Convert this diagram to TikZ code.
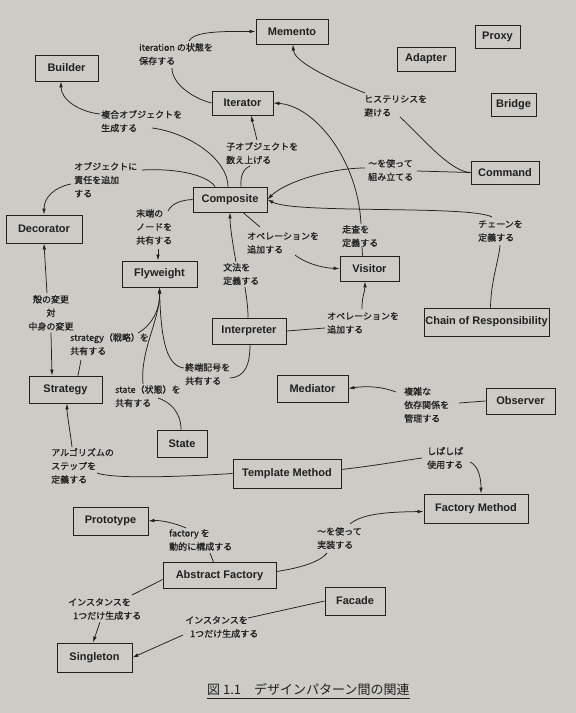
\documentclass[tikz,border=0pt]{standalone}
\usepackage{fontspec}
\setmainfont{Liberation Sans}
\newfontfamily\jp[FakeBold=0.8]{Noto Sans CJK JP}
\newfontfamily\jpcap{Noto Sans CJK JP}
\usetikzlibrary{arrows.meta}
\definecolor{paper}{RGB}{204,203,198}
\definecolor{ink}{RGB}{32,32,32}
\begin{document}
\begin{tikzpicture}[x=1pt,y=-1pt,
 box/.style={draw=ink, fill=paper, line width=0.9pt, text=ink, font=\bfseries\fontsize{11}{12}\selectfont, inner sep=0pt},
 lab/.style={anchor=north west, align=left, inner sep=0pt, text=ink, font=\jp\fontsize{9}{13.5}\selectfont},
 conn/.style={draw=ink, line width=0.75pt},
 arr/.style={conn, -{Latex[length=6pt,width=3.6pt]}},
]
\fill[paper] (0,0) rectangle (576,713);
\useasboundingbox (0,0) rectangle (576,713);

% boxes
\node[box, minimum width=72pt, minimum height=25pt] (memento) at (292,31.5) {Memento};
\node[box, minimum width=63pt, minimum height=26pt] (builder) at (66.5,68) {Builder};
\node[box, minimum width=61pt, minimum height=24pt] (iterator) at (242.5,103) {Iterator};
\node[box, minimum width=45pt, minimum height=23pt] (proxy) at (497.5,36.5) {Proxy};
\node[box, minimum width=58pt, minimum height=24pt] (adapter) at (426,59) {Adapter};
\node[box, minimum width=45pt, minimum height=23pt] (bridge) at (513.5,104.5) {Bridge};
\node[box, minimum width=68pt, minimum height=23pt] (command) at (505,172.5) {Command};
\node[box, minimum width=74pt, minimum height=25pt] (composite) at (230,199.5) {Composite};
\node[box, minimum width=76pt, minimum height=28pt] (decorator) at (44,229) {Decorator};
\node[box, minimum width=75pt, minimum height=26pt] (flyweight) at (159.5,274) {Flyweight};
\node[box, minimum width=59pt, minimum height=25pt] (visitor) at (369.5,268.5) {Visitor};
\node[box, minimum width=74pt, minimum height=26pt] (interpreter) at (249,331) {Interpreter};
\node[box, minimum width=125pt, minimum height=28pt] (chain) at (486.5,322) {Chain of Responsibility};
\node[box, minimum width=71pt, minimum height=27pt] (mediator) at (312.5,388.5) {Mediator};
\node[box, minimum width=69pt, minimum height=26pt] (observer) at (520.5,401) {Observer};
\node[box, minimum width=73pt, minimum height=27pt] (strategy) at (65.5,389.5) {Strategy};
\node[box, minimum width=50pt, minimum height=27pt] (state) at (182,443.5) {State};
\node[box, minimum width=108pt, minimum height=29pt] (template) at (287,473.5) {Template Method};
\node[box, minimum width=104pt, minimum height=29pt] (factory) at (476,508.5) {Factory Method};
\node[box, minimum width=75pt, minimum height=28pt] (prototype) at (110.5,521) {Prototype};
\node[box, minimum width=113pt, minimum height=26pt] (abstract) at (219.5,575.5) {Abstract Factory};
\node[box, minimum width=60pt, minimum height=28pt] (facade) at (355,601) {Facade};
\node[box, minimum width=75pt, minimum height=29pt] (singleton) at (94.5,657.5) {Singleton};

% labels
\node[lab] (lIter) at (139,43) {iteration の状態を\\保存する};
\node[lab] (lBuild) at (101,110) {複合オブジェクトを\\生成する};
\node[lab] (lChild) at (226,142) {子オブジェクトを\\数え上げる};
\node[lab] (lDeco) at (74,162) {オブジェクトに\\責任を追加\\する};
\node[lab] (lHyst) at (364,95) {ヒステリシスを\\避ける};
\node[lab] (lUse) at (368,159) {～を使って\\組み立てる};
\node[lab] (lLeaf) at (136,209) {末端の\\ノードを\\共有する};
\node[lab, anchor=north, align=center] (lShell) at (51,295) {殻の変更\\対\\中身の変更};
\node[lab] (lStrat) at (70,333) {strategy（戦略）を\\共有する};
\node[lab] (lGram) at (223,263) {文法を\\定義する};
\node[lab] (lTerm) at (185,363) {終端記号を\\共有する};
\node[lab] (lOp1) at (247,232) {オペレーションを\\追加する};
\node[lab] (lTrav) at (342,225) {走査を\\定義する};
\node[lab] (lChain) at (478,220) {チェーンを\\定義する};
\node[lab] (lOp2) at (327,312) {オペレーションを\\追加する};
\node[lab] (lState) at (115,385) {state（状態）を\\共有する};
\node[lab] (lCpx) at (404,387) {複雑な\\依存関係を\\管理する};
\node[lab] (lAlg) at (51,448) {アルゴリズムの\\ステップを\\定義する};
\node[lab] (lOften) at (427,447) {しばしば\\使用する};
\node[lab] (lFact) at (169,529) {factory を\\動的に構成する};
\node[lab] (lImpl) at (317,527) {～を使って\\実装する};
\node[lab] (lSing1) at (68,598) {インスタンスを\\\hspace{5pt}1つだけ生成する};
\node[lab] (lSing2) at (185,616) {インスタンスを\\\hspace{5pt}1つだけ生成する};

% connectors
\draw[conn] (iterator.west) .. controls (195,99) and (172,85) .. ([shift={(33,25)}]lIter.north west);
\draw[arr] ([shift={(50,-2)}]lIter.north west) .. controls (193,33) and (212,31) .. (memento.west);

\draw[conn] ([shift={(51,18)}]lBuild.north west) .. controls (190,133) and (228,160) .. ([shift={(-2,0)}]composite.north);
\draw[arr] ([shift={(-1,4)}]lBuild.north west) .. controls (80,112) and (61,100) .. ([shift={(-5.5,0)}]builder.south);

\draw[conn] ([shift={(11,0)}]composite.north) .. controls (240,176) and (244,168) .. ([shift={(24,24)}]lChild.north west);
\draw[arr] ([shift={(31,-2)}]lChild.north west) -- ([shift={(8.5,0)}]iterator.south);

\draw[conn] ([shift={(68,8)}]lDeco.north west) .. controls (180,168) and (208,176) .. ([shift={(-15,0)}]composite.north);
\draw[arr] ([shift={(-3,22)}]lDeco.north west) .. controls (55,187) and (44,197) .. (decorator.north);

\draw[conn] (composite.west) .. controls (182,200) and (172,203) .. ([shift={(32,2)}]lLeaf.north west);
\draw[arr] ([shift={(22,40)}]lLeaf.north west) -- ([shift={(-1.5,0)}]flyweight.north);

\draw[conn] ([shift={(-7,0)}]visitor.north) -- ([shift={(20,21)}]lTrav.north west);
\draw[arr] ([shift={(19,-1)}]lTrav.north west) .. controls (358,160) and (315,106) .. (iterator.east);

\draw[conn] (command.west) -- ([shift={(49,12)}]lUse.north west);
\draw[arr] ([shift={(-3,9)}]lUse.north west) .. controls (330,168) and (285,182) .. (composite.east);

\draw[conn] ([shift={(36,22)}]lHyst.north west) .. controls (420,135) and (450,172) .. (command.west);
\draw[arr] ([shift={(1,-2)}]lHyst.north west) .. controls (320,75) and (294,60) .. ([shift={(1,0)}]memento.south);

\draw[conn] ([shift={(4,0)}]chain.north) .. controls (491,280) and (499,260) .. ([shift={(22,25)}]lChain.north west);
\draw[arr] ([shift={(14,-3)}]lChain.north west) .. controls (470,205) and (295,214) .. (composite.east);

\draw[conn] ([shift={(13,0)}]composite.south) -- ([shift={(13,-5)}]lOp1.north west);
\draw[arr] ([shift={(48,23)}]lOp1.north west) .. controls (305,263) and (322,268) .. (visitor.west);

\draw[conn] ([shift={(-1,0)}]interpreter.north) .. controls (248,305) and (246,295) .. ([shift={(22,24)}]lGram.north west);
\draw[arr] ([shift={(13,-1)}]lGram.north west) .. controls (232,240) and (230,225) .. (composite.south);

\draw[conn] (interpreter.east) -- ([shift={(-2,16)}]lOp2.north west);
\draw[arr] ([shift={(35,-3)}]lOp2.north west) .. controls (362,295) and (365,292) .. ([shift={(-4.5,0)}]visitor.south);

\draw[conn] ([shift={(1,0)}]interpreter.south) .. controls (250,365) and (245,377) .. ([shift={(45,15)}]lTerm.north west);
\draw[arr] ([shift={(-1,5)}]lTerm.north west) .. controls (168,366) and (161,345) .. (flyweight.south);

\draw[conn] ([shift={(12.5,0)}]strategy.north) -- ([shift={(11,27)}]lStrat.north west);
\draw[arr] ([shift={(68,0)}]lStrat.north west) .. controls (152,325) and (160,310) .. (flyweight.south);

\draw[conn] ([shift={(-1,0)}]state.north) .. controls (181,412) and (170,402) .. ([shift={(43,13)}]lState.north west);
\draw[arr] ([shift={(28,-1)}]lState.north west) .. controls (140,350) and (160,320) .. (flyweight.south);

\draw[arr] ([shift={(-4,-2)}]lShell.north) -- (decorator.south);
\draw[arr] ([shift={(0,2)}]lShell.south) -- ([shift={(-13.5,0)}]strategy.north);

\draw[conn] (template.west) .. controls (160,478) and (110,478) .. ([shift={(46,25)}]lAlg.north west);
\draw[arr] ([shift={(21,-1)}]lAlg.north west) .. controls (70,430) and (67,415) .. ([shift={(1.5,0)}]strategy.south);

\draw[conn] ([shift={(0,-4)}]template.east) .. controls (380,465) and (400,461) .. ([shift={(-5,11)}]lOften.north west);
\draw[arr] ([shift={(43,15)}]lOften.north west) .. controls (477,465) and (481,475) .. ([shift={(5,0)}]factory.north);

\draw[conn] (observer.west) -- ([shift={(55,16)}]lCpx.north west);
\draw[arr] ([shift={(-8,5)}]lCpx.north west) .. controls (380,386) and (365,386) .. (mediator.east);

\draw[conn] ([shift={(-6,0)}]abstract.north) -- ([shift={(41,24)}]lFact.north west);
\draw[arr] ([shift={(17,-1)}]lFact.north west) .. controls (175,523) and (160,520) .. (prototype.east);

\draw[conn] ([shift={(0,-4)}]abstract.east) .. controls (300,568) and (320,562) .. ([shift={(10,26)}]lImpl.north west);
\draw[arr] ([shift={(33,-3)}]lImpl.north west) .. controls (362,514) and (385,512) .. ([shift={(0,3)}]factory.west);

\draw[conn] ([shift={(0,4)}]abstract.west) -- ([shift={(64,-3)}]lSing1.north west);
\draw[arr] ([shift={(32,24)}]lSing1.north west) -- ([shift={(-1.5,0)}]singleton.north);

\draw[conn] (facade.west) -- ([shift={(63,2)}]lSing2.north west);
\draw[arr] ([shift={(-2,19)}]lSing2.north west) -- (singleton.east);

% caption
\node[anchor=north west, inner sep=0pt, text=ink, font=\jpcap\fontsize{13}{15}\selectfont] (cap) at (207,683) {図 1.1\quad デザインパターン間の関連};
\draw[ink, line width=0.8pt] ([shift={(0,3)}]cap.south west) -- ([shift={(0,3)}]cap.south east);
\end{tikzpicture}
\end{document}
